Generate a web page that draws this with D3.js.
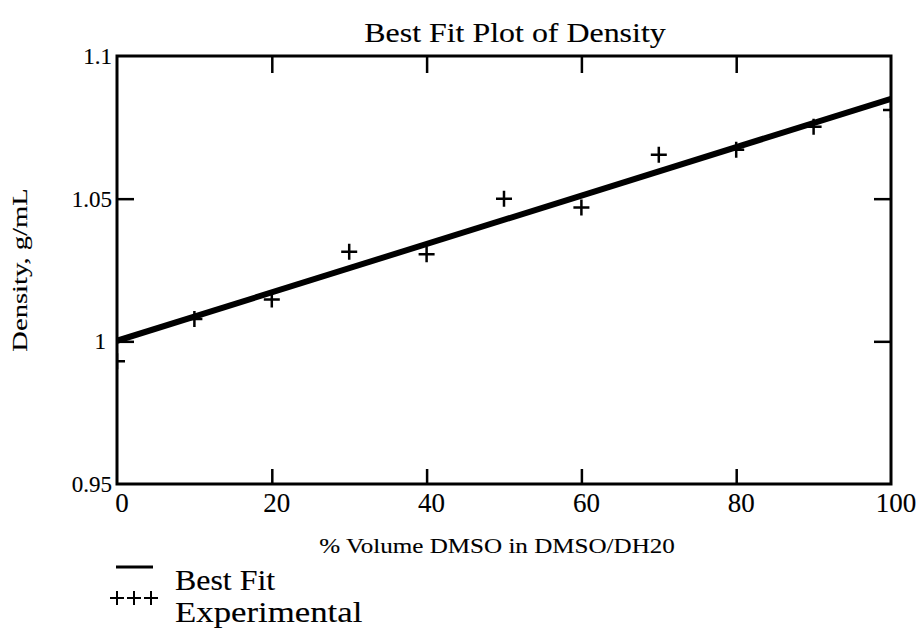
<!DOCTYPE html>
<html><head><meta charset="utf-8">
<script src="https://cdn.jsdelivr.net/npm/d3@7"></script>
<style>body{margin:0;background:#fff}svg{display:block}text{font-family:"Liberation Serif","DejaVu Serif",serif;fill:#000;stroke:#000;stroke-width:0.12px}</style>
</head><body><svg id="c" width="922" height="644"></svg>
<script>
const expX = [0, 10, 20, 30, 40, 50, 60, 70, 80, 90, 100];
const expY = [0.993, 1.0078, 1.0147, 1.0314, 1.0305, 1.050, 1.0469, 1.0654, 1.0671, 1.0752, 1.0811];
const fitX = [0, 100];
const fitY = [1.0002, 1.0850];
const xTicks = [0, 20, 40, 60, 80, 100];
const yTicks = [0.95, 1, 1.05, 1.1];
const yTickLabels = ["0.95", "1", "1.05", "1.1"];

const svg = d3.select("#c");
const L = 117, R = 891, T = 56, B = 484;
const x = d3.scaleLinear().domain([0, 100]).range([L, R]);
const y = d3.scaleLinear().domain([0.95, 1.1]).range([B, T]);

svg.append("defs").append("clipPath").attr("id", "clip")
  .append("rect").attr("x", L).attr("y", T).attr("width", R - L).attr("height", B - T);

function label(tx, ty, str, size, sx, anchor, rot) {
  return svg.append("text")
    .attr("transform", `translate(${tx},${ty})${rot ? " rotate(" + rot + ")" : ""} scale(${sx},1)`)
    .attr("text-anchor", anchor || "start").attr("font-size", size).text(str);
}

// ticks (inward)
const inner = xTicks.filter(d => d > 0 && d < 100);
const innerY = yTicks.filter(d => d > 0.95 && d < 1.1);
const tk = svg.append("g");
tk.append("g").attr("transform", `translate(0,${B})`)
  .call(d3.axisBottom(x).tickValues(inner).tickSize(-15).tickFormat(""));
tk.append("g").attr("transform", `translate(0,${T})`)
  .call(d3.axisTop(x).tickValues(inner).tickSize(-17).tickFormat(""));
tk.append("g").attr("transform", `translate(${L},0)`)
  .call(d3.axisLeft(y).tickValues(innerY).tickSize(-17).tickFormat(""));
tk.append("g").attr("transform", `translate(${R},0)`)
  .call(d3.axisRight(y).tickValues(innerY).tickSize(-17).tickFormat(""));
tk.selectAll(".domain").remove();
tk.selectAll("line").attr("stroke", "#000").attr("stroke-width", 2.5);

// frame
svg.append("rect").attr("x", L).attr("y", T).attr("width", R - L).attr("height", B - T)
  .attr("fill", "none").attr("stroke", "#000").attr("stroke-width", 3);

// fit line
const fit = fitX.map((d, i) => [d, fitY[i]]);
svg.append("path").datum(fit).attr("clip-path", "url(#clip)")
  .attr("d", d3.line().x(d => x(d[0])).y(d => y(d[1])))
  .attr("fill", "none").attr("stroke", "#000").attr("stroke-width", 6);

// experimental points
const pts = expX.map((d, i) => [d, expY[i]]);
svg.append("g").attr("clip-path", "url(#clip)")
  .selectAll("path").data(pts).join("path")
  .attr("d", d => { const cx = x(d[0]), cy = y(d[1]), s = 8; return `M${cx-s},${cy}H${cx+s}M${cx},${cy-s}V${cy+s}`; })
  .attr("stroke", "#000").attr("stroke-width", 2.5).attr("fill", "none");

// tick labels
svg.append("g").selectAll("text").data(xTicks).join("text")
  .attr("x", d => x(d) + 5).attr("y", 512).attr("text-anchor", "middle")
  .attr("font-size", 27).text(d => d);
svg.append("g").selectAll("text").data(yTicks).join("text")
  .attr("x", d => d === 1 ? 106 : 112).attr("y", d => y(d) + 8).attr("text-anchor", "end")
  .attr("font-size", 23).text((d, i) => yTickLabels[i]);

// titles
label(515, 42, "Best Fit Plot of Density", 28, 1.14, "middle");
label(497, 553, "% Volume DMSO in DMSO/DH20", 22, 1.14, "middle");
label(27, 270, "Density, g/mL", 22, 1.3, "middle", -90);

// legend
svg.append("line").attr("x1", 116).attr("x2", 153).attr("y1", 567).attr("y2", 567)
  .attr("stroke", "#000").attr("stroke-width", 3);
label(175, 590, "Best Fit", 29, 1.1);
const lg = svg.append("g").attr("stroke", "#000").attr("stroke-width", 2);
[117, 134, 151].forEach(cx => {
  lg.append("path").attr("d", `M${cx-7},598H${cx+7}M${cx},591V605`);
});
label(175, 622, "Experimental", 29, 1.2);
</script></body></html>
